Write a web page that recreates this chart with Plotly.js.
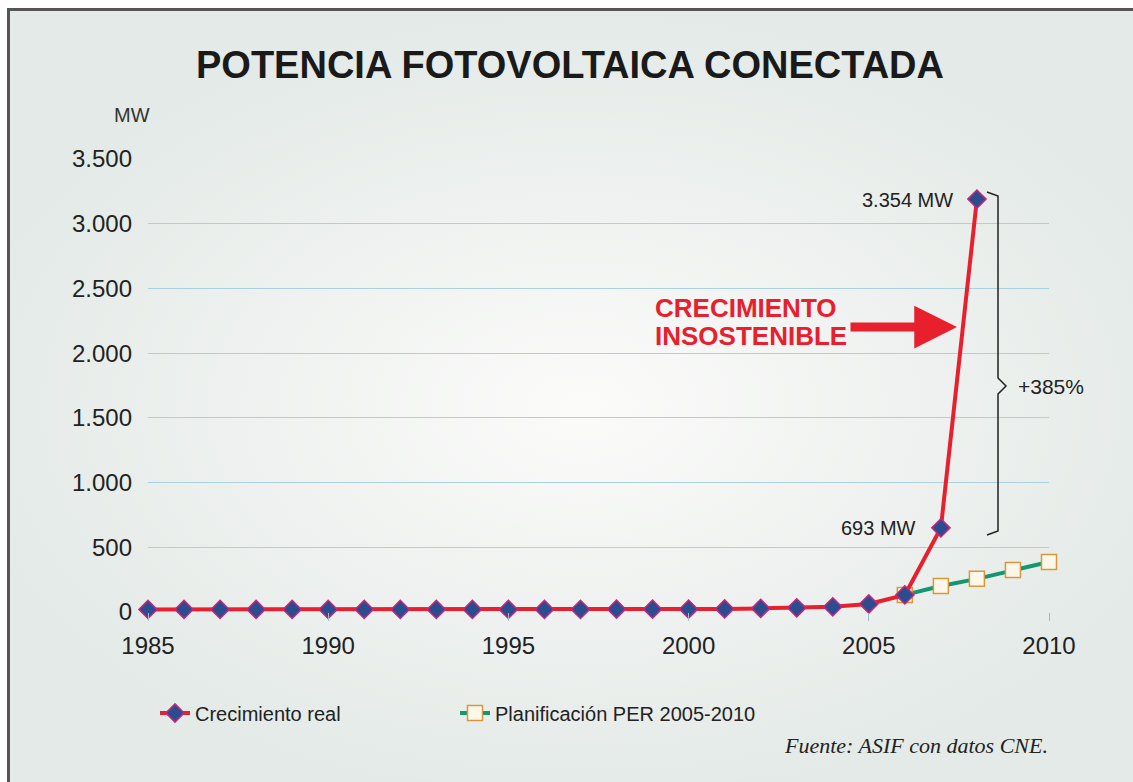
<!DOCTYPE html>
<html>
<head>
<meta charset="utf-8">
<script src="https://cdn.plot.ly/plotly-3.0.1.min.js"></script>
<style>
html,body{margin:0;padding:0;background:#ffffff;overflow:hidden;width:1133px;height:782px;}
#frame{position:absolute;left:7px;top:8px;right:-20px;bottom:-20px;border-top:3px solid #555;border-left:3px solid #555;
background:radial-gradient(ellipse 55% 50% at 50% 50%, #fbfbfa 0%, #eef1ef 55%, #e3eae7 100%);}
#chart{position:absolute;left:0;top:0;width:1133px;height:782px;overflow:hidden;}
</style>
</head>
<body>
<div id="frame"></div>
<div id="chart"></div>
<script>
const years = [1985,1986,1987,1988,1989,1990,1991,1992,1993,1994,1995,1996,1997,1998,1999,2000,2001,2002,2003,2004,2005,2006,2007,2008];
const realMW = [20,20,20,20,20,20,20,20,20,20,20,20,20,22,22,22,24,28,32,40,62,132,650,3190];
const planYears = [2006,2007,2008,2009,2010];
const planMW = [132,201,256,325,387];
const seriesNames = ["Crecimiento real","Planificación PER 2005-2010"];
const labelTop = "3.354 MW";
const labelMid = "693 MW";
const labelPct = "+385%";

const W = 901, H = 453, L = 148, T = 159;
const px = x => (x - L) / W;
const py = y => (T + H - y) / H;

const plan = {
  x: planYears, y: planMW, name: seriesNames[1], type: 'scatter', mode: 'lines+markers',
  line: {color: '#14966e', width: 4},
  marker: {symbol: 'square', size: 15, color: '#fdf7ea', line: {color: '#d9963a', width: 1.5}},
  cliponaxis: false
};
const real = {
  x: years, y: realMW, name: seriesNames[0], type: 'scatter', mode: 'lines+markers',
  line: {color: '#e8202e', width: 4},
  marker: {symbol: 'diamond', size: 14, color: '#2b4c8f', line: {color: '#c8267a', width: 1.5}},
  cliponaxis: false
};

const font = 'Liberation Sans, Arial, sans-serif';
const layout = {
  width: 1133, height: 782,
  margin: {l: L, r: 1133 - L - W, t: T, b: 782 - T - H},
  paper_bgcolor: 'rgba(0,0,0,0)', plot_bgcolor: 'rgba(0,0,0,0)',
  separators: ',.',
  font: {family: font, color: '#222', size: 20},
  title: {text: '<b>POTENCIA FOTOVOLTAICA CONECTADA</b>', font: {family: font, size: 38, color: '#1a1a1a'},
          x: 570/1133, xanchor: 'center', y: 1 - 65/782, yanchor: 'middle', yref: 'container'},
  xaxis: {range: [1985, 2010], tickvals: [1985,1990,1995,2000,2005,2010], showgrid: false, zeroline: false,
          ticks: 'outside', ticklen: 8, tickcolor: '#9fbccb', tickwidth: 1, showline: false,
          tickfont: {size: 24, color: '#222'}, ticklabelstandoff: 4, fixedrange: true},
  yaxis: {range: [0, 3500], dtick: 500, tickformat: ',d', showgrid: true, gridcolor: '#a9d1df', gridwidth: 1,
          zeroline: false, showline: false, ticks: '', tickfont: {size: 24, color: '#222'}, ticklabelstandoff: 15, fixedrange: true},
  showlegend: true,
  legend: {orientation: 'h', x: px(155), xanchor: 'left', y: py(713), yanchor: 'middle', traceorder: 'reversed',
           font: {size: 20, color: '#222'}, bgcolor: 'rgba(0,0,0,0)', entrywidth: 255, entrywidthmode: 'pixels'},
  shapes: [
    {type: 'path', xref: 'paper', yref: 'paper', line: {color: '#222', width: 1.5},
     path: `M ${px(987)} ${py(192)} L ${px(998)} ${py(196)} L ${px(998)} ${py(378)} L ${px(1006)} ${py(386)} L ${px(998)} ${py(394)} L ${px(998)} ${py(531)} L ${px(987)} ${py(535)}`}
  ],
  annotations: [
    {text: labelTop, xref: 'paper', yref: 'paper', x: px(955), y: py(200), xanchor: 'right', yanchor: 'middle', showarrow: false, font: {size: 20, color: '#222'}},
    {text: labelMid, xref: 'paper', yref: 'paper', x: px(918), y: py(528), xanchor: 'right', yanchor: 'middle', showarrow: false, font: {size: 20, color: '#222'}},
    {text: labelPct, xref: 'paper', yref: 'paper', x: px(1016), y: py(386), xanchor: 'left', yanchor: 'middle', showarrow: false, font: {size: 21, color: '#222'}},
    {text: '<b>CRECIMIENTO</b>', xref: 'paper', yref: 'paper', x: px(653), y: py(308), xanchor: 'left', yanchor: 'middle', showarrow: false, font: {size: 26, color: '#e8202e'}},
    {text: '<b>INSOSTENIBLE</b>', xref: 'paper', yref: 'paper', x: px(653), y: py(336), xanchor: 'left', yanchor: 'middle', showarrow: false, font: {size: 26, color: '#e8202e'}},
    {text: '', xref: 'paper', yref: 'paper', x: px(957), y: py(327), ax: -108, ay: 0, showarrow: true,
     arrowhead: 2, arrowsize: 0.95, arrowwidth: 9, arrowcolor: '#e8202e', standoff: 0},
    {text: '<i>Fuente: ASIF con datos CNE.</i>', xref: 'paper', yref: 'paper', x: px(1050), y: py(745), xanchor: 'right', yanchor: 'middle', showarrow: false,
     font: {family: 'Liberation Serif, Times New Roman, serif', size: 22, color: '#222'}},
    {text: 'MW', xref: 'paper', yref: 'paper', x: px(132), y: py(115), xanchor: 'center', yanchor: 'middle', showarrow: false, font: {size: 20, color: '#333'}}
  ]
};

Plotly.newPlot('chart', [plan, real], layout, {displayModeBar: false, staticPlot: true});
</script>
</body>
</html>
